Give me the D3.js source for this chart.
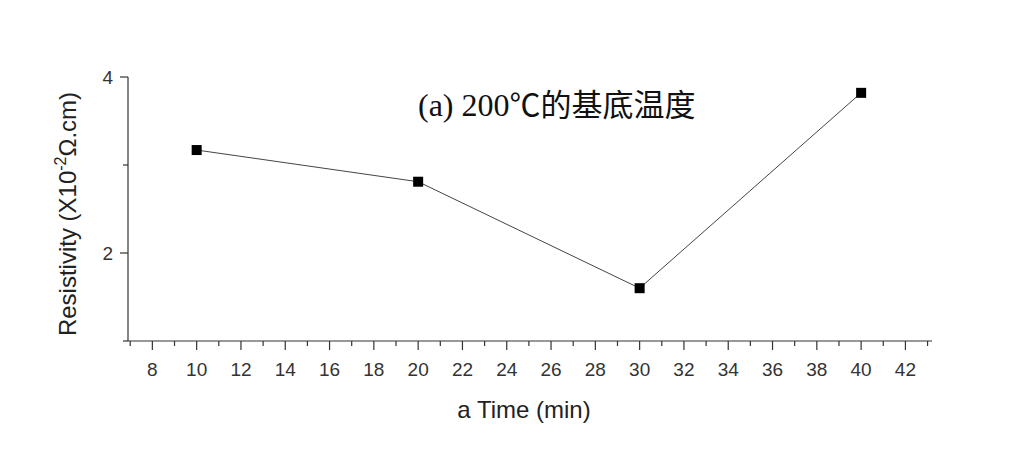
<!DOCTYPE html><html><head><meta charset="utf-8"><script src="https://d3js.org/d3.v7.min.js"></script>
<style>body{margin:0;background:#fff}</style></head><body><svg id="c" width="1010" height="456"></svg>
<script>
const times=[10,20,30,40];
const resistivity=[3.17,2.81,1.6,3.82];
const xMajor=[8,10,12,14,16,18,20,22,24,26,28,30,32,34,36,38,40,42];
const yMajor=[2,4];
const svg=d3.select("#c");
const x=d3.scaleLinear().domain([6.9,43.2]).range([128,932]);
const y=d3.scaleLinear().domain([1,4]).range([341,77]);
const g=svg.append("g").attr("stroke","#333").attr("stroke-width",1.2);
g.append("line").attr("x1",x(6.9)).attr("x2",x(43.2)).attr("y1",341).attr("y2",341);
g.append("line").attr("x1",128).attr("x2",128).attr("y1",77).attr("y2",341);
d3.range(7,44).forEach(v=>{const maj=v%2==0;g.append("line").attr("x1",x(v)).attr("x2",x(v)).attr("y1",341).attr("y2",341+(maj?9:5));});
[1,2,3,4].forEach(v=>{const maj=v%2==0;g.append("line").attr("x1",128).attr("x2",128-(maj?8:5)).attr("y1",y(v)).attr("y2",y(v));});
const f="Arial, Liberation Sans, sans-serif";
svg.selectAll(".xt").data(xMajor).join("text").attr("x",d=>x(d)).attr("y",376).attr("text-anchor","middle").attr("font-family",f).attr("font-size",19).attr("fill","#333").text(d=>d);
svg.selectAll(".yt").data(yMajor).join("text").attr("x",113).attr("y",d=>y(d)+7).attr("text-anchor","end").attr("font-family",f).attr("font-size",19).attr("fill","#333").text(d=>d);
svg.append("text").attr("x",524).attr("y",418).attr("text-anchor","middle").attr("font-family",f).attr("font-size",24).attr("fill","#222").text("a Time (min)");
const yl=svg.append("text").attr("transform","translate(76,214) rotate(-90)").attr("text-anchor","middle").attr("font-family",f).attr("font-size",24).attr("fill","#222");
yl.append("tspan").text("Resistivity (X10");yl.append("tspan").attr("font-size",16).attr("dy",-10).text("-2");yl.append("tspan").attr("dy",10).text("Ω.cm)");
const line=d3.line().x((d,i)=>x(times[i])).y(d=>y(d));
svg.append("path").attr("d",line(resistivity)).attr("fill","none").attr("stroke","#444").attr("stroke-width",1);
svg.selectAll(".p").data(resistivity).join("rect").attr("x",(d,i)=>x(times[i])-5).attr("y",d=>y(d)-5).attr("width",10).attr("height",10).attr("fill","#000");
const t=svg.append("text").attr("x",418).attr("y",116).attr("font-family","Liberation Serif, serif").attr("font-size",32).attr("fill","#111");
t.append("tspan").text("(a)  200");
t.append("tspan").attr("font-family","Noto Sans CJK SC, sans-serif").attr("font-size",31).text("℃的基底温度");
</script></body></html>
